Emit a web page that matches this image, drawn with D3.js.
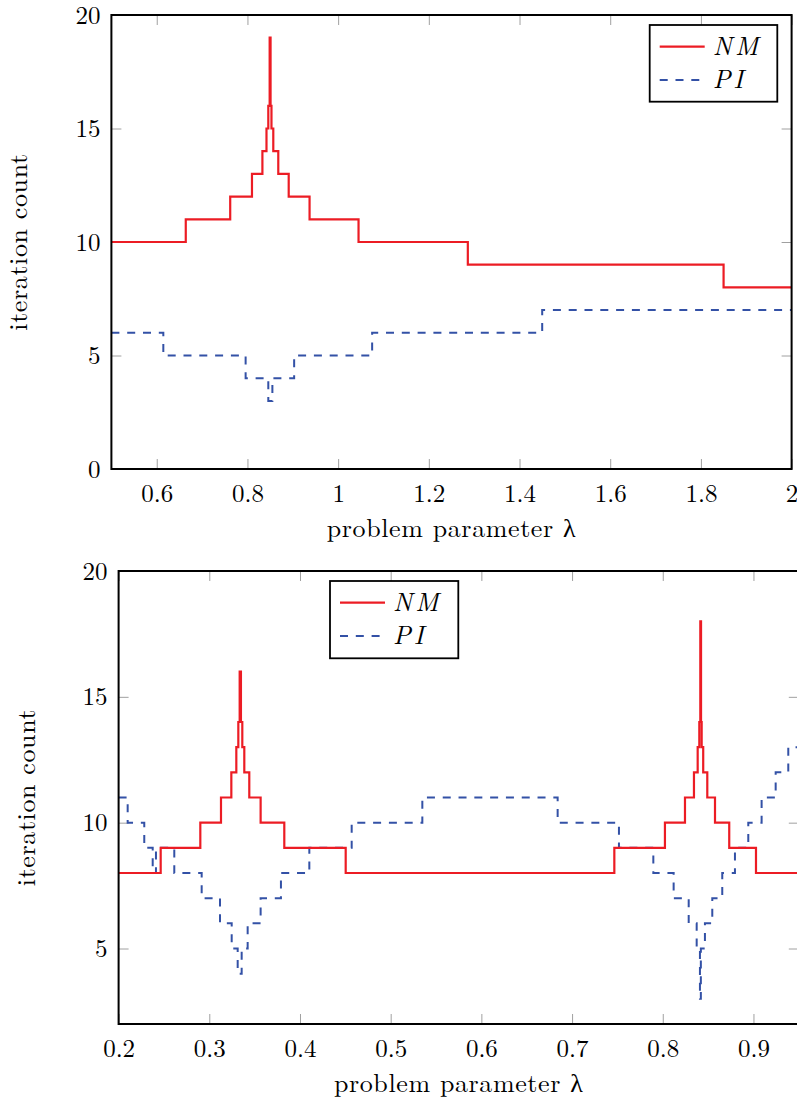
<!DOCTYPE html>
<html lang="en">
<head>
<meta charset="UTF-8">
<title>iteration count vs problem parameter</title>
<script src="https://d3js.org/d3.v7.min.js"></script>
<style>
  body { margin: 0; background: #fff; }
  svg { display: block; }
  text { font-family: "Latin Modern Roman", "CMU Serif", "Liberation Serif", "DejaVu Serif", serif; fill: #000; }
</style>
</head>
<body>
<div id="chart"></div>
<script>
// ---- data (step functions: value holds from x[i] until x[i+1]) ----

// top panel, lambda in [0.5, 2]
var topNmX = [0.5, 0.664, 0.762, 0.810, 0.833, 0.842, 0.846, 0.849, 0.851, 0.853, 0.857, 0.868, 0.891, 0.937, 1.045, 1.286, 1.850];
var topNmY = [10, 11, 12, 13, 14, 15, 16, 19, 16, 15, 14, 13, 12, 11, 10, 9, 8];
var topPiX = [0.5, 0.6145, 0.796, 0.846, 0.855, 0.903, 1.075, 1.450];
var topPiY = [6, 5, 4, 3, 4, 5, 6, 7];

// bottom panel, lambda in [0.2, 0.95]
var botNmX = [0.2, 0.2464, 0.2901, 0.3129, 0.3243, 0.3298, 0.3320, 0.3335, 0.3349, 0.3364, 0.3386, 0.3441, 0.3566, 0.3827, 0.4504,
              0.7466, 0.8024, 0.8245, 0.8344, 0.8385, 0.8403, 0.8414, 0.8422, 0.8429, 0.8446, 0.8491, 0.8576, 0.8733, 0.9028];
var botNmY = [8, 9, 10, 11, 12, 13, 14, 16, 14, 13, 12, 11, 10, 9, 8,
              9, 10, 11, 12, 13, 14, 18, 14, 13, 12, 11, 10, 9, 8];
var botPiX = [0.2, 0.2100, 0.2283, 0.2376, 0.2412, 0.2614, 0.2916, 0.3118, 0.3247, 0.3313, 0.3357, 0.3423, 0.3566, 0.3790, 0.4103, 0.4570, 0.5349,
              0.6841, 0.7517, 0.7896, 0.8120, 0.8286, 0.8374, 0.8410, 0.8420, 0.8465, 0.8546, 0.8656, 0.8796, 0.8943, 0.9090, 0.9245, 0.9384];
var botPiY = [11, 10, 9, 8, 9, 8, 7, 6, 5, 4, 5, 6, 7, 8, 9, 10, 11,
              10, 9, 8, 7, 6, 5, 3, 5, 6, 7, 8, 9, 10, 11, 12, 13];

var topXTicks = [0.6, 0.8, 1, 1.2, 1.4, 1.6, 1.8, 2];
var botXTicks = [0.2, 0.3, 0.4, 0.5, 0.6, 0.7, 0.8, 0.9];
var topYTicks = [0, 5, 10, 15, 20];
var botYTicks = [5, 10, 15, 20];

var seriesNames = ["NM", "PI"];
var xLabel = "problem parameter \u03bb";
var yLabel = "iteration count";

var RED = "#ec1c24", BLUE = "#3351a6";

var W = 797, H = 1101;
var svg = d3.select("#chart").append("svg")
  .attr("width", W).attr("height", H);

function stepPoints(xs, ys, xmax) {
  var pts = xs.map(function(x, i) { return [x, ys[i]]; });
  pts.push([xmax, ys[ys.length - 1]]);
  return pts;
}

function panel(cfg, id) {
  var x = d3.scaleLinear().domain(cfg.xDomain).range([cfg.left, cfg.right]);
  var y = d3.scaleLinear().domain(cfg.yDomain).range([cfg.bottom, cfg.top]);
  var g = svg.append("g");

  g.append("clipPath").attr("id", "clip" + id)
    .append("rect")
      .attr("x", cfg.left).attr("y", cfg.top - 2)
      .attr("width", cfg.right - cfg.left).attr("height", cfg.bottom - cfg.top + 4);

  // ticks on all four sides, pointing inwards
  var ax = [
    [d3.axisBottom(x).tickValues(cfg.xTicks).tickFormat(function(d){ return String(+d.toFixed(1)); }).tickPadding(15), "translate(0," + cfg.bottom + ")"],
    [d3.axisTop(x).tickValues(cfg.xTicks).tickFormat(""), "translate(0," + cfg.top + ")"],
    [d3.axisLeft(y).tickValues(cfg.yTicks).tickPadding(11), "translate(" + cfg.left + ",0)"],
    [d3.axisRight(y).tickValues(cfg.yTicks).tickFormat(""), "translate(" + cfg.right + ",0)"]
  ];
  ax.forEach(function(a) {
    var ag = g.append("g").attr("transform", a[1])
      .call(a[0].tickSizeInner(-10).tickSizeOuter(0));
    ag.select(".domain").remove();
    ag.selectAll(".tick line").attr("stroke", "#a0a0a0").attr("stroke-width", 1);
    ag.selectAll(".tick text").attr("font-size", "25px")
      .style("font-family", null).attr("font-family", null);
  });

  var line = d3.line()
    .x(function(d){ return x(d[0]); })
    .y(function(d){ return y(d[1]); })
    .curve(d3.curveStepAfter);

  var plot = g.append("g").attr("clip-path", "url(#clip" + id + ")");
  plot.append("path")
    .attr("d", line(stepPoints(cfg.piX, cfg.piY, cfg.xDomain[1])))
    .attr("fill", "none").attr("stroke", BLUE).attr("stroke-width", 2)
    .attr("stroke-dasharray", "8,7.8");
  plot.append("path")
    .attr("d", line(stepPoints(cfg.nmX, cfg.nmY, cfg.xDomain[1])))
    .attr("fill", "none").attr("stroke", RED).attr("stroke-width", 2.2);

  // frame
  g.append("rect")
    .attr("x", cfg.left).attr("y", cfg.top)
    .attr("width", cfg.right - cfg.left).attr("height", cfg.bottom - cfg.top)
    .attr("fill", "none").attr("stroke", "#000").attr("stroke-width", 2);

  // axis labels
  g.append("text")
    .attr("x", (cfg.left + cfg.right) / 2).attr("y", cfg.bottom + 68)
    .attr("text-anchor", "middle").attr("font-size", "26px")
    .attr("letter-spacing", "0.6px")
    .text(xLabel);
  g.append("text")
    .attr("transform", "translate(" + (cfg.left - 84) + "," + ((cfg.top + cfg.bottom) / 2) + ") rotate(-90)")
    .attr("text-anchor", "middle").attr("font-size", "26px")
    .attr("letter-spacing", "0.6px")
    .text(yLabel);

  // legend
  var lg = cfg.legend;
  g.append("rect")
    .attr("x", lg.x).attr("y", lg.y).attr("width", lg.w).attr("height", lg.h)
    .attr("fill", "#fff").attr("stroke", "#000").attr("stroke-width", 1.8);
  [[RED, null, 2.2], [BLUE, "8,7.8", 2]].forEach(function(s, i) {
    var ly = lg.y + 21.7 + i * 33.2;
    g.append("line")
      .attr("x1", lg.x + 10).attr("x2", lg.x + 55)
      .attr("y1", ly).attr("y2", ly)
      .attr("stroke", s[0]).attr("stroke-width", s[2])
      .attr("stroke-dasharray", s[1]);
    g.append("text")
      .attr("x", lg.x + 63).attr("y", ly + 8)
      .attr("font-size", "26px").attr("font-style", "italic")
      .attr("letter-spacing", "3px")
      .text(seriesNames[i]);
  });
}

panel({
  left: 111.4, right: 791.6, top: 15, bottom: 469,
  xDomain: [0.5, 2], yDomain: [0, 20],
  xTicks: topXTicks, yTicks: topYTicks,
  nmX: topNmX, nmY: topNmY, piX: topPiX, piY: topPiY,
  legend: {x: 649.7, y: 25, w: 127.6, h: 76.7}
}, 1);

panel({
  left: 118.6, right: 798.8, top: 571, bottom: 1024,
  xDomain: [0.2, 0.95], yDomain: [2, 20],
  xTicks: botXTicks, yTicks: botYTicks,
  nmX: botNmX, nmY: botNmY, piX: botPiX, piY: botPiY,
  legend: {x: 330, y: 581, w: 128.3, h: 77.3}
}, 2);
</script>
</body>
</html>
